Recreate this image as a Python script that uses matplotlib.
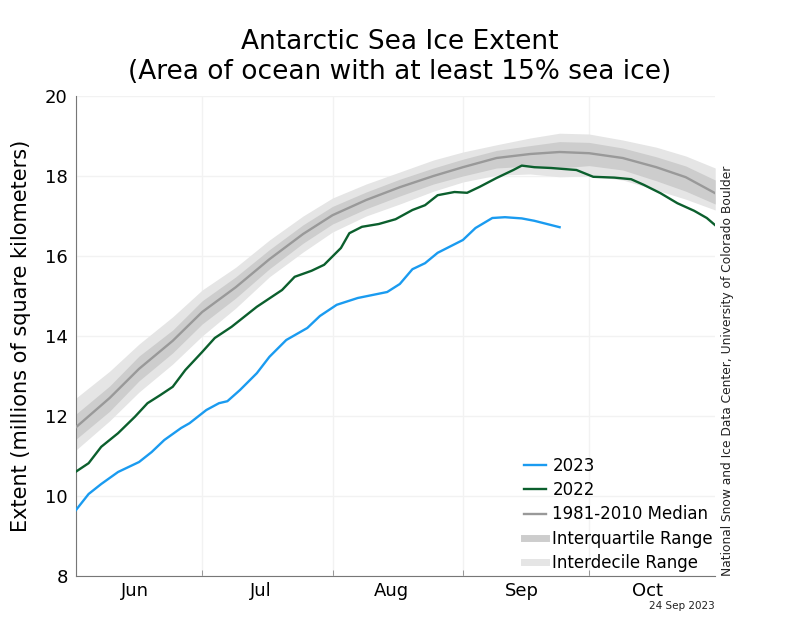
import matplotlib
matplotlib.use("Agg")
import matplotlib.pyplot as plt
import matplotlib.dates as mdates
from matplotlib.lines import Line2D
import pandas as pd

# values (millions of km^2), dates as month-day in 2023
dates_2023 = ["06-01", "06-04", "06-07", "06-11", "06-16", "06-19", "06-22", "06-26",
              "06-28", "07-02", "07-05", "07-07", "07-10", "07-14", "07-17", "07-21",
              "07-26", "07-29", "08-02", "08-07", "08-14", "08-17", "08-20", "08-23",
              "08-26", "09-01", "09-04", "09-08", "09-11", "09-15", "09-18", "09-21", "09-24"]
ext_2023 = [9.65, 10.05, 10.3, 10.6, 10.85, 11.1, 11.4, 11.7,
            11.82, 12.15, 12.32, 12.37, 12.65, 13.07, 13.48, 13.9,
            14.2, 14.5, 14.78, 14.95, 15.1, 15.3, 15.67, 15.82,
            16.08, 16.4, 16.7, 16.95, 16.97, 16.94, 16.88, 16.8, 16.72]

dates_2022 = ["06-01", "06-04", "06-07", "06-11", "06-15", "06-18", "06-21", "06-24",
              "06-27", "07-01", "07-04", "07-08", "07-14", "07-20", "07-23", "07-27",
              "07-30", "08-03", "08-05", "08-08", "08-12", "08-16", "08-20", "08-23",
              "08-26", "08-30", "09-02", "09-05", "09-09", "09-13", "09-15", "09-18",
              "09-22", "09-28", "10-02", "10-07", "10-11", "10-14", "10-18", "10-22",
              "10-26", "10-29", "10-31"]
ext_2022 = [10.61, 10.82, 11.23, 11.57, 11.98, 12.32, 12.52, 12.73,
            13.15, 13.6, 13.95, 14.23, 14.73, 15.15, 15.48, 15.63,
            15.78, 16.2, 16.57, 16.73, 16.8, 16.92, 17.15, 17.27,
            17.52, 17.6, 17.58, 17.73, 17.95, 18.15, 18.26, 18.22,
            18.2, 18.15, 17.98, 17.96, 17.92, 17.78, 17.57, 17.32,
            17.13, 16.95, 16.77]

clim_dates = ["06-01", "06-09", "06-16", "06-24", "07-01", "07-09", "07-17", "07-25",
              "08-01", "08-09", "08-17", "08-25", "09-01", "09-09", "09-17", "09-24",
              "10-01", "10-09", "10-17", "10-24", "10-31"]
median = [11.72, 12.45, 13.18, 13.88, 14.6, 15.22, 15.92, 16.55,
          17.02, 17.4, 17.72, 18.0, 18.22, 18.45, 18.55, 18.6,
          18.57, 18.45, 18.22, 17.97, 17.57]
iqr_hi = [12.05, 12.75, 13.5, 14.15, 14.88, 15.48, 16.16, 16.78,
          17.24, 17.6, 17.92, 18.2, 18.42, 18.64, 18.76, 18.86,
          18.84, 18.7, 18.48, 18.25, 17.9]
iqr_lo = [11.42, 12.12, 12.88, 13.58, 14.3, 14.95, 15.68, 16.32,
          16.8, 17.18, 17.5, 17.8, 18.0, 18.2, 18.25, 18.2,
          18.26, 18.15, 17.88, 17.62, 17.3]
idr_hi = [12.45, 13.12, 13.8, 14.48, 15.15, 15.72, 16.4, 17.0,
          17.45, 17.8, 18.1, 18.4, 18.6, 18.78, 18.95, 19.07,
          19.05, 18.9, 18.72, 18.5, 18.2]
idr_lo = [11.15, 11.88, 12.6, 13.3, 14.0, 14.7, 15.48, 16.1,
          16.6, 17.0, 17.3, 17.62, 17.85, 18.02, 18.05, 17.98,
          18.0, 17.9, 17.65, 17.42, 17.15]


def to_dates(md):
    return pd.to_datetime(["2023-" + d for d in md])


fig = plt.figure(figsize=(8, 6.4), dpi=100)
ax = fig.add_axes([0.095, 0.1, 0.799, 0.75])

cd = to_dates(clim_dates)
ax.fill_between(cd, idr_lo, idr_hi, color="#e5e5e5", lw=0)
ax.fill_between(cd, iqr_lo, iqr_hi, color="#cdcdcd", lw=0)
hmed, = ax.plot(cd, median, color="#999999", lw=1.7, zorder=3)
h2023, = ax.plot(to_dates(dates_2023), ext_2023, color="#1a9bf0", lw=1.7, zorder=4)
h2022, = ax.plot(to_dates(dates_2022), ext_2022, color="#0b5f2d", lw=1.7, zorder=4)

ax.set_xlim(pd.Timestamp("2023-06-01"), pd.Timestamp("2023-10-31"))
ax.set_ylim(8, 20)
ax.set_yticks([8, 10, 12, 14, 16, 18, 20])

ax.xaxis.set_minor_locator(mdates.MonthLocator())
ax.xaxis.set_major_locator(mdates.MonthLocator(bymonthday=15))
ax.xaxis.set_major_formatter(mdates.DateFormatter("%b"))
ax.tick_params(axis="x", which="major", length=0, pad=4, labelsize=13)
ax.tick_params(axis="x", which="minor", direction="in", length=4, color="#888888")
ax.tick_params(axis="y", length=0, pad=6, labelsize=13)

ax.grid(True, axis="y", color="#f2f2f2", lw=1)
ax.grid(True, axis="x", which="minor", color="#f2f2f2", lw=1)
ax.set_axisbelow(True)
for s in ["top", "right"]:
    ax.spines[s].set_visible(False)
for s in ["left", "bottom"]:
    ax.spines[s].set_color("#777777")

ax.set_ylabel("Extent (millions of square kilometers)", fontsize=15, labelpad=10)
fig.suptitle("Antarctic Sea Ice Extent\n(Area of ocean with at least 15% sea ice)",
             fontsize=19, y=0.955, linespacing=1.2)

hiqr = Line2D([], [], color="#cdcdcd", lw=5)
hidr = Line2D([], [], color="#e5e5e5", lw=5)
ax.legend([h2023, h2022, hmed, hiqr, hidr],
          ["2023", "2022", "1981-2010 Median", "Interquartile Range", "Interdecile Range"],
          loc="lower right", bbox_to_anchor=(1.02, -0.023), frameon=False,
          fontsize=12, handlelength=1.3, handletextpad=0.4, labelspacing=0.38)

fig.text(0.909, 0.1, "National Snow and Ice Data Center, University of Colorado Boulder",
         rotation=90, fontsize=8.8, ha="center", va="bottom", color="#222222")
fig.text(0.893, 0.053, "24 Sep 2023", fontsize=7.5, ha="right", va="center", color="#222222")

fig.savefig("out.png", dpi=100)
